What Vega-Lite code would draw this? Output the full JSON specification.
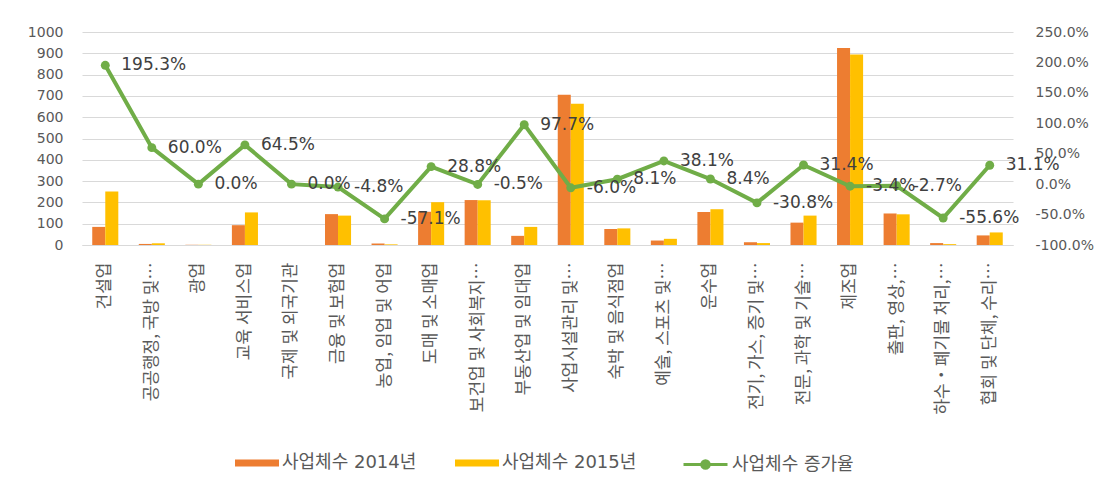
{
  "$schema": "https://vega.github.io/schema/vega-lite/v6.json",
  "autosize": {"type": "none"},
  "padding": {"left": 82, "top": 32, "right": 93, "bottom": 246},
  "width": 931,
  "height": 213,
  "background": "#ffffff",
  "config": {
    "view": {"stroke": null},
    "font": "DejaVu Sans, Noto Sans CJK KR",
    "axis": {"labelFont": "DejaVu Sans, Noto Sans CJK KR", "labelColor": "#595959"},
    "legend": {"labelFont": "DejaVu Sans, Noto Sans CJK KR", "labelColor": "#595959"}
  },
  "datasets": {
    "bars": [
      {"category": "건설업", "series": "사업체수 2014년", "value": 85},
      {"category": "건설업", "series": "사업체수 2015년", "value": 251},
      {"category": "공공행정, 국방 및…", "series": "사업체수 2014년", "value": 5},
      {"category": "공공행정, 국방 및…", "series": "사업체수 2015년", "value": 8},
      {"category": "광업", "series": "사업체수 2014년", "value": 1},
      {"category": "광업", "series": "사업체수 2015년", "value": 1},
      {"category": "교육 서비스업", "series": "사업체수 2014년", "value": 93},
      {"category": "교육 서비스업", "series": "사업체수 2015년", "value": 153},
      {"category": "국제 및 외국기관", "series": "사업체수 2014년", "value": 0},
      {"category": "국제 및 외국기관", "series": "사업체수 2015년", "value": 0},
      {"category": "금융 및 보험업", "series": "사업체수 2014년", "value": 145},
      {"category": "금융 및 보험업", "series": "사업체수 2015년", "value": 138},
      {"category": "농업, 임업 및 어업", "series": "사업체수 2014년", "value": 7},
      {"category": "농업, 임업 및 어업", "series": "사업체수 2015년", "value": 3},
      {"category": "도매 및 소매업", "series": "사업체수 2014년", "value": 156},
      {"category": "도매 및 소매업", "series": "사업체수 2015년", "value": 201},
      {"category": "보건업 및 사회복지…", "series": "사업체수 2014년", "value": 211},
      {"category": "보건업 및 사회복지…", "series": "사업체수 2015년", "value": 210},
      {"category": "부동산업 및 임대업", "series": "사업체수 2014년", "value": 43},
      {"category": "부동산업 및 임대업", "series": "사업체수 2015년", "value": 85},
      {"category": "사업시설관리 및…", "series": "사업체수 2014년", "value": 705},
      {"category": "사업시설관리 및…", "series": "사업체수 2015년", "value": 663},
      {"category": "숙박 및 음식점업", "series": "사업체수 2014년", "value": 75},
      {"category": "숙박 및 음식점업", "series": "사업체수 2015년", "value": 78},
      {"category": "예술, 스포츠 및…", "series": "사업체수 2014년", "value": 21},
      {"category": "예술, 스포츠 및…", "series": "사업체수 2015년", "value": 29},
      {"category": "운수업", "series": "사업체수 2014년", "value": 155},
      {"category": "운수업", "series": "사업체수 2015년", "value": 168},
      {"category": "전기, 가스, 증기 및…", "series": "사업체수 2014년", "value": 13},
      {"category": "전기, 가스, 증기 및…", "series": "사업체수 2015년", "value": 9},
      {"category": "전문, 과학 및 기술…", "series": "사업체수 2014년", "value": 105},
      {"category": "전문, 과학 및 기술…", "series": "사업체수 2015년", "value": 138},
      {"category": "제조업", "series": "사업체수 2014년", "value": 925},
      {"category": "제조업", "series": "사업체수 2015년", "value": 894},
      {"category": "출판, 영상,…", "series": "사업체수 2014년", "value": 148},
      {"category": "출판, 영상,…", "series": "사업체수 2015년", "value": 144},
      {"category": "하수・폐기물 처리,…", "series": "사업체수 2014년", "value": 9},
      {"category": "하수・폐기물 처리,…", "series": "사업체수 2015년", "value": 4},
      {"category": "협회 및 단체, 수리…", "series": "사업체수 2014년", "value": 45},
      {"category": "협회 및 단체, 수리…", "series": "사업체수 2015년", "value": 59}
    ],
    "rates": [
      {"category": "건설업", "rate": 1.953, "label": "195.3%"},
      {"category": "공공행정, 국방 및…", "rate": 0.6, "label": "60.0%"},
      {"category": "광업", "rate": 0.0, "label": "0.0%"},
      {"category": "교육 서비스업", "rate": 0.645, "label": "64.5%"},
      {"category": "국제 및 외국기관", "rate": 0.0, "label": "0.0%"},
      {"category": "금융 및 보험업", "rate": -0.048, "label": "-4.8%"},
      {"category": "농업, 임업 및 어업", "rate": -0.571, "label": "-57.1%"},
      {"category": "도매 및 소매업", "rate": 0.288, "label": "28.8%"},
      {"category": "보건업 및 사회복지…", "rate": -0.005, "label": "-0.5%"},
      {"category": "부동산업 및 임대업", "rate": 0.977, "label": "97.7%"},
      {"category": "사업시설관리 및…", "rate": -0.06, "label": "-6.0%"},
      {"category": "숙박 및 음식점업", "rate": 0.081, "label": "8.1%"},
      {"category": "예술, 스포츠 및…", "rate": 0.381, "label": "38.1%"},
      {"category": "운수업", "rate": 0.084, "label": "8.4%"},
      {"category": "전기, 가스, 증기 및…", "rate": -0.308, "label": "-30.8%"},
      {"category": "전문, 과학 및 기술…", "rate": 0.314, "label": "31.4%"},
      {"category": "제조업", "rate": -0.034, "label": "-3.4%"},
      {"category": "출판, 영상,…", "rate": -0.027, "label": "-2.7%"},
      {"category": "하수・폐기물 처리,…", "rate": -0.556, "label": "-55.6%"},
      {"category": "협회 및 단체, 수리…", "rate": 0.311, "label": "31.1%"}
    ]
  },
  "encoding": {
    "x": {
      "field": "category",
      "type": "nominal",
      "title": null,
      "scale": {
        "domain": ["건설업", "공공행정, 국방 및…", "광업", "교육 서비스업", "국제 및 외국기관", "금융 및 보험업", "농업, 임업 및 어업", "도매 및 소매업", "보건업 및 사회복지…", "부동산업 및 임대업", "사업시설관리 및…", "숙박 및 음식점업", "예술, 스포츠 및…", "운수업", "전기, 가스, 증기 및…", "전문, 과학 및 기술…", "제조업", "출판, 영상,…", "하수・폐기물 처리,…", "협회 및 단체, 수리…"],
        "paddingInner": 0.44,
        "paddingOuter": 0.22
      },
      "axis": {
        "labelAngle": -90,
        "labelFont": "Noto Sans CJK KR",
        "labelFontSize": 17,
        "labelPadding": 17,
        "labelLimit": 200,
        "ticks": false,
        "domain": true,
        "domainColor": "#D9D9D9",
        "grid": false
      }
    }
  },
  "layer": [
    {
      "data": {"name": "bars"},
      "mark": {"type": "bar"},
      "encoding": {
        "xOffset": {"field": "series", "type": "nominal", "sort": ["사업체수 2014년", "사업체수 2015년"]},
        "y": {
          "field": "value",
          "type": "quantitative",
          "scale": {"domain": [0, 1000], "nice": false},
          "axis": {
            "title": null,
            "format": "d",
            "values": [0, 100, 200, 300, 400, 500, 600, 700, 800, 900, 1000],
            "grid": true,
            "gridColor": "#D9D9D9",
            "domain": false,
            "ticks": false,
            "labelFontSize": 14,
            "labelPadding": 19
          }
        },
        "color": {
          "field": "series",
          "type": "nominal",
          "scale": {"domain": ["사업체수 2014년", "사업체수 2015년"], "range": ["#ED7D31", "#FFC000"]},
          "legend": {
            "title": null,
            "orient": "none",
            "direction": "horizontal",
            "legendX": 153,
            "legendY": 409,
            "symbolType": "M-1,-0.16H1V0.16H-1Z",
            "symbolSize": 1936,
            "symbolStrokeWidth": 0,
            "labelFontSize": 18,
            "labelOffset": 3,
            "columnPadding": 38
          }
        }
      }
    },
    {
      "data": {"name": "rates"},
      "encoding": {
        "y": {
          "field": "rate",
          "type": "quantitative",
          "scale": {"domain": [-1, 2.5], "nice": false},
          "axis": {
            "title": null,
            "orient": "right",
            "format": ".1%",
            "labelExpr": "replace(datum.label, '−', '-')",
            "values": [-1, -0.5, 0, 0.5, 1, 1.5, 2, 2.5],
            "grid": false,
            "domain": false,
            "ticks": false,
            "labelFontSize": 14,
            "labelPadding": 22
          }
        }
      },
      "layer": [
        {
          "mark": {"type": "line", "strokeWidth": 4},
          "encoding": {
            "stroke": {
              "datum": "사업체수 증가율",
              "type": "nominal",
              "scale": {"domain": ["사업체수 증가율"], "range": ["#70AD47"]},
              "legend": {
                "title": null,
                "orient": "none",
                "direction": "horizontal",
                "legendX": 600,
                "legendY": 409,
                "symbolType": "M-1,0H1M0.17,0A0.17,0.17,0,1,1,-0.17,0A0.17,0.17,0,1,1,0.17,0Z",
                "symbolSize": 1936,
                "symbolStrokeWidth": 3,
                "symbolFillColor": "#70AD47",
                "labelFontSize": 18,
                "labelOffset": 3
              }
            }
          }
        },
        {
          "mark": {"type": "point", "filled": true, "size": 80, "color": "#70AD47", "opacity": 1}
        },
        {
          "mark": {"type": "text", "align": "left", "baseline": "middle", "dx": 16, "fontSize": 17, "color": "#404040"},
          "encoding": {
            "text": {"field": "label", "type": "nominal"}
          }
        }
      ]
    }
  ],
  "resolve": {"scale": {"y": "independent"}}
}
